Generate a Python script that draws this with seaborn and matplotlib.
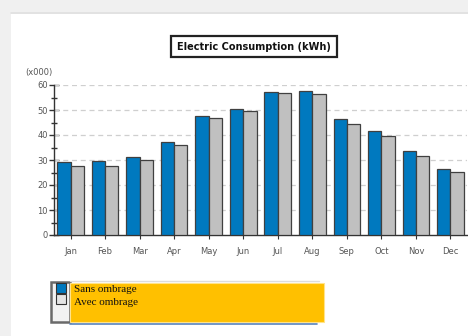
import matplotlib
matplotlib.use("Agg")
import matplotlib.pyplot as plt
import seaborn as sns
import pandas as pd
from matplotlib.patches import Rectangle
from matplotlib.lines import Line2D

months = ["Jan", "Feb", "Mar", "Apr", "May", "Jun", "Jul", "Aug", "Sep", "Oct", "Nov", "Dec"]
sans_ombrage = [29.2, 29.6, 31.3, 37.2, 47.8, 50.6, 57.4, 57.8, 46.3, 41.6, 33.7, 26.3]
avec_ombrage = [27.6, 27.8, 30.0, 35.9, 46.7, 49.5, 56.7, 56.5, 44.6, 39.5, 31.7, 25.1]
series_names = ["Sans ombrage", "Avec ombrage"]
title = "Electric Consumption (kWh)"
unit_label = "(x000)"
yticks = [0, 10, 20, 30, 40, 50, 60]

BLUE = "#0079BF"
GRAY = "#C0C0C0"

df = pd.DataFrame({
    "month": months * 2,
    "value": sans_ombrage + avec_ombrage,
    "series": [series_names[0]] * 12 + [series_names[1]] * 12,
})

sns.set_theme(style="white")
plt.rcParams["font.family"] = ["DejaVu Sans"]

W, H = 468, 336
fig = plt.figure(figsize=(W / 100, H / 100), dpi=100)
fig.patch.set_facecolor("#F0F0F0")

def fx(x):
    return x / W

def fy(y):
    return 1 - y / H

# white panel
fig.add_artist(Rectangle((fx(11), 0), 1, fy(14), transform=fig.transFigure,
                         facecolor="white", edgecolor="none", zorder=0))
fig.add_artist(Line2D([fx(11), 1], [fy(13), fy(13)], transform=fig.transFigure,
                      color="#E0E0E0", lw=1.2, zorder=0))

ax = fig.add_axes([fx(54), fy(235), (467 - 54) / W, (235 - 85) / H])
ax.set_facecolor("none")

sns.barplot(data=df, x="month", y="value", hue="series", palette=[BLUE, GRAY],
            saturation=1, edgecolor="#404040", linewidth=0.9, width=0.77, ax=ax,
            legend=False, zorder=3)

ax.set_xlim(-0.48, 11.48)
ax.set_ylim(0, 60)
ax.set_yticks(yticks)
ax.set_yticks([5, 15, 25, 35, 45, 55], minor=True)
ax.set_xlabel("")
ax.set_ylabel("")
for s in ["top", "right"]:
    ax.spines[s].set_visible(False)
for s in ["left", "bottom"]:
    ax.spines[s].set_color("#333333")
    ax.spines[s].set_linewidth(1.0)
ax.tick_params(axis="y", which="major", direction="inout", length=7, width=1,
               color="#333333", labelsize=6, labelcolor="#555555", pad=1, left=True)
ax.tick_params(axis="y", which="minor", direction="inout", length=5, width=1,
               color="#333333", left=True)
ax.tick_params(axis="x", direction="out", length=3, width=0.8, color="#333333",
               labelsize=6, labelcolor="#555555", pad=6, bottom=True)
for y in yticks[1:]:
    ax.axhline(y, color="#CFCFCF", lw=0.9, ls=(0, (4, 3)), zorder=1)

fig.text(fx(52), fy(72), unit_label, ha="right", va="center", fontsize=6, color="#555555")

fig.text(fx(254), fy(46.5), title, ha="center", va="center", fontsize=7,
         fontweight="bold", color="#111111",
         bbox=dict(boxstyle="square,pad=0.6", facecolor="white",
                   edgecolor="#222222", linewidth=1.6))

# legend
fig.add_artist(Rectangle((fx(51), fy(322)), fx(70) - fx(51), fy(282) - fy(322),
                         transform=fig.transFigure, facecolor="#F2F2F2",
                         edgecolor="#6A6A6A", lw=1.8, zorder=5))
fig.add_artist(Rectangle((fx(56), fy(293)), fx(66) - fx(56), fy(283) - fy(293),
                         transform=fig.transFigure, facecolor=BLUE,
                         edgecolor="#333333", lw=0.8, zorder=6))
fig.add_artist(Rectangle((fx(56), fy(304)), fx(66) - fx(56), fy(294) - fy(304),
                         transform=fig.transFigure, facecolor="#E4E4E4",
                         edgecolor="#333333", lw=0.8, zorder=6))
fig.add_artist(Line2D([fx(70), fx(319)], [fy(281), fy(281)], transform=fig.transFigure,
                      color="#DDDDDD", lw=1.0, zorder=5))
fig.add_artist(Rectangle((fx(69.5), fy(322)), fx(324) - fx(69.5), fy(283) - fy(322),
                         transform=fig.transFigure, facecolor="#FFC000",
                         edgecolor="#FFE38A", lw=0.8, zorder=6))
fig.add_artist(Line2D([fx(69.5), fx(317)], [fy(323.5), fy(323.5)], transform=fig.transFigure,
                      color="#5A84BC", lw=1.2, zorder=6))
for i, name in enumerate(series_names):
    fig.text(fx(74), fy(290 + i * 12.5), name, ha="left", va="center", fontsize=8,
             family=["Liberation Serif"], color="#111111", zorder=7)

fig.savefig("out.png", dpi=100, facecolor=fig.get_facecolor())
